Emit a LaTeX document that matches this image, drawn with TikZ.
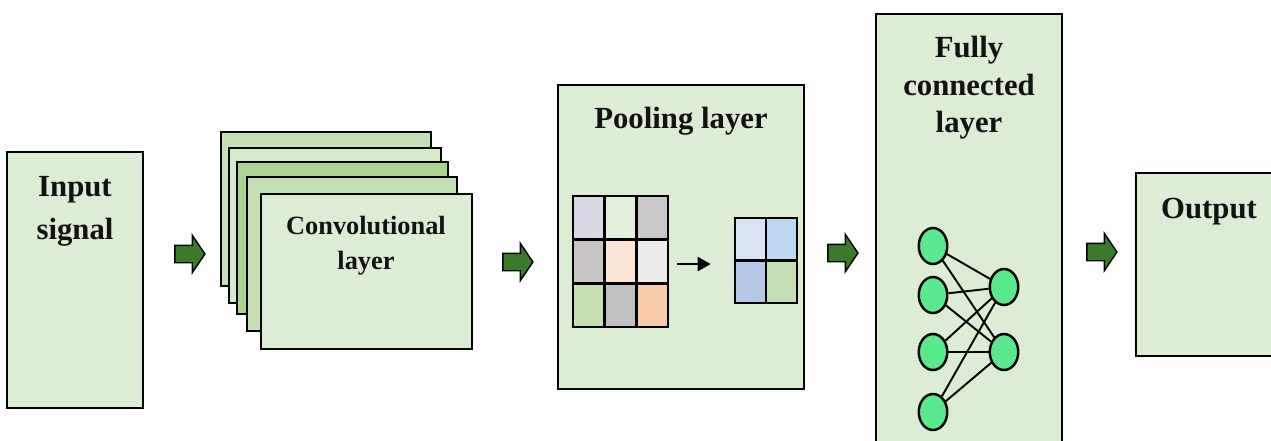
\documentclass[tikz,border=0pt]{standalone}
\usepackage{fontspec}
\setmainfont{Liberation Serif}
\usetikzlibrary{fit,shapes.arrows,shapes.geometric,arrows.meta}

\definecolor{panel}{RGB}{221,236,212}
\definecolor{convA}{RGB}{197,224,180}
\definecolor{convB}{RGB}{214,234,202}
\definecolor{convC}{RGB}{172,211,146}
\definecolor{convD}{RGB}{197,224,180}
\definecolor{arrowgreen}{RGB}{58,122,42}
\definecolor{neuron}{RGB}{88,234,140}
\definecolor{inkdark}{RGB}{18,18,18}
% cell colours of the 3x3 feature map
\definecolor{pa}{RGB}{217,217,230}
\definecolor{pb}{RGB}{226,239,218}
\definecolor{pc}{RGB}{201,201,201}
\definecolor{pd}{RGB}{200,196,196}
\definecolor{pe}{RGB}{252,228,214}
\definecolor{pf}{RGB}{236,236,236}
\definecolor{pg}{RGB}{198,224,180}
\definecolor{ph}{RGB}{192,192,192}
\definecolor{pi}{RGB}{248,203,173}
% cell colours of the pooled 2x2 map
\definecolor{qa}{RGB}{218,227,243}
\definecolor{qb}{RGB}{189,215,238}
\definecolor{qc}{RGB}{180,199,231}
\definecolor{qd}{RGB}{197,224,180}

\tikzset{
  layerbox/.style={draw=black, line width=1.3pt, fill=#1, inner sep=0pt, outer sep=0pt},
  layerbox/.default=panel,
  title/.style={anchor=base, inner sep=0pt, text=inkdark,
    font=\fontsize{17.5}{21}\selectfont\bfseries},
  smalltitle/.style={title, font=\fontsize{15}{18}\selectfont\bfseries},
  blockarrow/.style={shape=single arrow, draw=black, line width=0.8pt, fill=arrowgreen,
    minimum height=0.6cm, single arrow head extend=0.2cm,
    single arrow tip angle=112, inner xsep=0pt, inner ysep=0.16cm},
  cell/.style={draw=black, line width=1.5pt, inner sep=0pt,
    minimum width=0.634cm, minimum height=0.874cm},
  pcell/.style={draw=black, line width=1.5pt, inner sep=0pt,
    minimum width=0.62cm, minimum height=0.85cm},
  neuronnode/.style={ellipse, draw=black, line width=1.4pt, fill=neuron,
    minimum width=0.57cm, minimum height=0.72cm, inner sep=0pt},
  link/.style={draw=black, line width=1.1pt},
}

\begin{document}
\begin{tikzpicture}[x=0.02cm, y=-0.02cm]
\clip (0,0) rectangle (1271,440);

% input
\node[layerbox, fit={(7,152) (143,408)}] (input) {};
\node[title] (in1) at (75,196) {Input};
\node[title] (in2) at (75,239) {signal};

% stacked convolution maps, back to front
\node[layerbox=convA, fit={(221,132) (431,286)}] (conv1) {};
\node[layerbox=convB, fit={(229,148) (441,303)}] (conv2) {};
\node[layerbox=convC, fit={(237,162) (448,314)}] (conv3) {};
\node[layerbox=convD, fit={(247,177) (457,331)}] (conv4) {};
\node[layerbox, fit={(261,194) (472,349)}] (conv5) {};
\node[smalltitle] (cv1) at (366,234) {Convolutional};
\node[smalltitle] (cv2) at (366,269) {layer};

% pooling
\node[layerbox, fit={(558,85) (804,389)}] (pool) {};
\node[title] (pl1) at (681,128) {Pooling layer};
\foreach \r/\c/\clr in {0/0/pa,0/1/pb,0/2/pc,1/0/pd,1/1/pe,1/2/pf,2/0/pg,2/1/ph,2/2/pi}
  \node[cell, fill=\clr] (p\r\c) at ({573+31.7*(\c+0.5)},{196+43.7*(\r+0.5)}) {};
\foreach \r/\c/\clr in {0/0/qa,0/1/qb,1/0/qc,1/1/qd}
  \node[pcell, fill=\clr] (q\r\c) at ({735+31*(\c+0.5)},{218+42.5*(\r+0.5)}) {};
\draw[line width=1.4pt, -{Triangle[length=0.26cm,width=0.28cm]},
      shorten <=0.16cm, shorten >=0.46cm]
  ([yshift=-0.05cm]p12.east) -- ([yshift=-0.05cm]p12.east -| q00.west);

% fully connected
\node[layerbox, fit={(876,14) (1062,460)}] (fc) {};
\node[title] (fc1) at (969,57) {Fully};
\node[title] (fc2) at (969,95) {connected};
\node[title] (fc3) at (969,132) {layer};
\foreach \i/\y in {1/246,2/295,3/352,4/412}
  \node[neuronnode] (l\i) at (933,\y) {};
\foreach \j/\y in {1/287,2/352}
  \node[neuronnode] (r\j) at (1004,\y) {};
\foreach \i in {1,...,4}
  \foreach \j in {1,2}
    \draw[link] (l\i) -- (r\j);

% output
\node[layerbox, fit={(1136,173) (1300,356)}] (output) {};
\node[title] (out1) at (1209,218) {Output};

% block arrows between stages
\node[blockarrow] (b1) at (187,254) {};
\node[blockarrow] (b2) at (515,262) {};
\node[blockarrow] (b3) at (840,253) {};
\node[blockarrow] (b4) at (1099,252) {};
\end{tikzpicture}
\end{document}
